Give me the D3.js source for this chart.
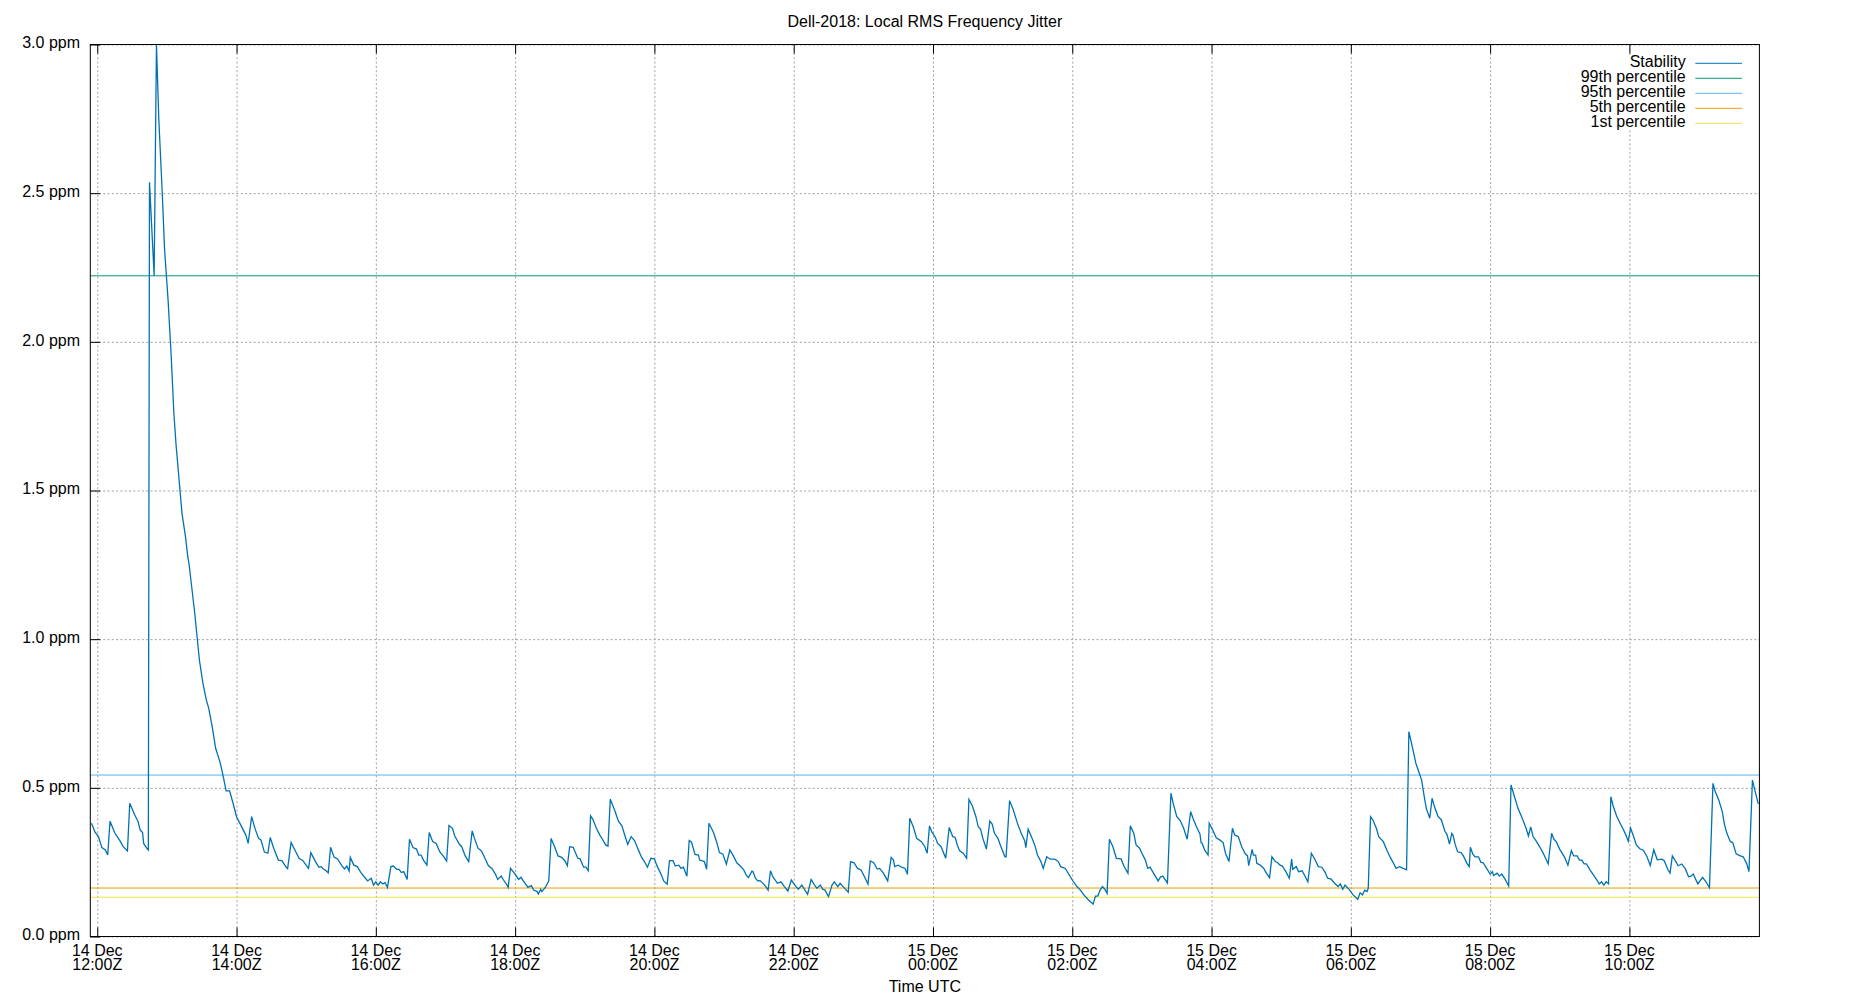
<!DOCTYPE html>
<html><head><meta charset="utf-8">
<script src="https://cdn.jsdelivr.net/npm/d3@7"></script>
<style>
body{margin:0;background:#fff;}
svg text{font-family:"Liberation Sans",Arial,sans-serif;font-size:16px;fill:#000;}
</style></head><body>
<svg id="chart" width="1850" height="1000"></svg>
<script>
// ---------------- data ----------------
const chartTitle = "Dell-2018: Local RMS Frequency Jitter";
const xAxisLabel = "Time UTC";
const startTime = "2018-12-14T12:00:00Z";       // reference instant, offsets are minutes from it
const windowMinutes = [-6, 1432];                 // visible time window
const tickHours = [0, 2, 4, 6, 8, 10, 12, 14, 16, 18, 20, 22]; // hours after startTime
const yTicks = [0, 0.5, 1.0, 1.5, 2.0, 2.5, 3.0];
const yDomain = [0, 3.0];
const seriesNames = ["Stability", "99th percentile", "95th percentile", "5th percentile", "1st percentile"];
const percentileValues = [2.222, 0.543, 0.163, 0.132];
// [minutes after startTime, ppm]
const stability = [
[-5,0.381],[-2,0.352],[1,0.336],[4,0.299],[7,0.291],[9,0.274],[11,0.388],[15,0.349],[20,0.319],[22,0.304],[26,0.288],[28,0.448],[32,0.411],[35,0.388],[37,0.358],[39,0.350],[40,0.313],[43,0.295],[44,0.291],
[45,2.537],[49,2.222],[51,3.0],[53,2.75],[56,2.5],[58,2.31],[61,2.141],[63,2.001],[64,1.928],[66,1.760],[68,1.648],[71,1.513],[73,1.423],[76,1.345],[78,1.277],[79,1.255],[81,1.188],[84,1.087],[86,1.008],[88,0.930],[91,0.852],[94,0.795],[96,0.768],[99,0.706],[102,0.633],[106,0.583],[109,0.529],[111,0.490],[114,0.490],[117,0.448],[120,0.403],[124,0.372],[128,0.341],[130,0.313],[133,0.403],[136,0.362],[139,0.330],[141,0.325],[144,0.284],[147,0.280],[149,0.333],[152,0.297],[156,0.257],[159,0.255],[163,0.232],[164,0.228],[167,0.316],[171,0.285],[174,0.262],[177,0.256],[179,0.245],[182,0.229],[184,0.282],[188,0.252],[191,0.233],[193,0.235],[195,0.226],[197,0.222],[199,0.214],[201,0.300],[204,0.267],[207,0.261],[211,0.237],[213,0.227],[215,0.237],[217,0.220],[218,0.266],[221,0.240],[224,0.235],[227,0.216],[231,0.196],[233,0.187],[236,0.196],[238,0.173],[240,0.184],[242,0.173],[244,0.184],[246,0.177],[248,0.181],[250,0.165],[253,0.235],[255,0.237],[258,0.226],[260,0.226],[262,0.215],[264,0.218],[267,0.192],[269,0.327],[272,0.299],[275,0.294],[277,0.274],[279,0.274],[281,0.257],[284,0.240],[286,0.350],[289,0.319],[292,0.313],[295,0.285],[298,0.271],[301,0.254],[303,0.373],[306,0.364],[308,0.338],[312,0.310],[314,0.302],[317,0.271],[320,0.252],[323,0.355],[325,0.330],[328,0.297],[331,0.288],[334,0.263],[337,0.238],[340,0.229],[343,0.210],[345,0.192],[348,0.203],[350,0.190],[353,0.173],[354,0.165],[356,0.229],[360,0.210],[363,0.192],[365,0.199],[368,0.182],[371,0.165],[374,0.171],[376,0.156],[379,0.151],[380,0.143],[382,0.159],[383,0.151],[386,0.165],[389,0.187],[391,0.330],[394,0.302],[397,0.271],[400,0.266],[403,0.254],[405,0.238],[407,0.302],[410,0.300],[414,0.263],[416,0.261],[419,0.233],[421,0.233],[423,0.221],[425,0.406],[427,0.394],[430,0.364],[433,0.341],[436,0.322],[438,0.308],[440,0.304],[442,0.462],[446,0.422],[449,0.388],[452,0.372],[455,0.334],[457,0.310],[460,0.336],[463,0.322],[466,0.293],[469,0.266],[472,0.248],[474,0.233],[477,0.263],[480,0.261],[482,0.240],[486,0.207],[488,0.187],[491,0.176],[493,0.255],[496,0.255],[498,0.237],[501,0.240],[503,0.229],[505,0.233],[508,0.203],[510,0.323],[512,0.317],[515,0.276],[518,0.274],[519,0.257],[523,0.252],[525,0.226],[527,0.381],[531,0.349],[534,0.313],[536,0.282],[539,0.277],[542,0.243],[545,0.291],[548,0.271],[551,0.248],[554,0.237],[557,0.224],[559,0.207],[561,0.198],[564,0.220],[565,0.218],[567,0.196],[569,0.187],[571,0.188],[574,0.177],[576,0.168],[578,0.156],[580,0.221],[582,0.201],[586,0.179],[589,0.184],[592,0.168],[595,0.153],[598,0.190],[601,0.173],[604,0.159],[607,0.173],[610,0.154],[612,0.142],[615,0.192],[618,0.173],[620,0.162],[623,0.173],[625,0.159],[627,0.156],[630,0.134],[633,0.173],[635,0.184],[638,0.168],[640,0.179],[644,0.162],[647,0.149],[649,0.252],[652,0.248],[655,0.229],[658,0.224],[661,0.201],[664,0.176],[666,0.254],[669,0.248],[672,0.227],[674,0.229],[677,0.215],[681,0.187],[684,0.266],[686,0.257],[687,0.235],[690,0.240],[693,0.233],[696,0.229],[698,0.209],[700,0.398],[703,0.369],[706,0.330],[710,0.319],[713,0.302],[715,0.280],[717,0.372],[719,0.352],[722,0.334],[724,0.313],[727,0.302],[731,0.263],[734,0.367],[737,0.336],[739,0.334],[741,0.308],[743,0.288],[746,0.280],[749,0.263],[751,0.461],[754,0.439],[757,0.403],[759,0.369],[761,0.361],[763,0.330],[766,0.294],[769,0.388],[771,0.378],[773,0.347],[776,0.330],[778,0.308],[782,0.268],[783,0.268],[786,0.457],[789,0.428],[791,0.403],[793,0.378],[796,0.347],[799,0.322],[800,0.299],[802,0.361],[805,0.334],[808,0.304],[810,0.274],[813,0.252],[815,0.229],[818,0.268],[821,0.260],[825,0.260],[828,0.252],[830,0.235],[834,0.229],[836,0.216],[840,0.190],[844,0.168],[847,0.156],[850,0.140],[854,0.123],[858,0.109],[860,0.136],[862,0.136],[864,0.156],[866,0.168],[868,0.159],[870,0.145],[872,0.327],[875,0.302],[878,0.263],[882,0.261],[885,0.233],[888,0.213],[890,0.372],[893,0.347],[895,0.308],[898,0.297],[900,0.280],[903,0.257],[905,0.229],[907,0.233],[910,0.213],[914,0.187],[916,0.200],[918,0.203],[922,0.180],[925,0.482],[927,0.447],[930,0.404],[933,0.390],[936,0.364],[939,0.327],[942,0.420],[944,0.398],[947,0.369],[950,0.345],[951,0.316],[952,0.313],[954,0.291],[957,0.274],[958,0.381],[961,0.358],[964,0.332],[967,0.325],[970,0.316],[972,0.280],[975,0.252],[978,0.364],[980,0.341],[983,0.336],[986,0.302],[989,0.278],[991,0.271],[992,0.238],[995,0.293],[996,0.274],[998,0.274],[999,0.246],[1002,0.240],[1005,0.229],[1007,0.215],[1010,0.198],[1012,0.268],[1015,0.252],[1017,0.248],[1019,0.240],[1021,0.237],[1024,0.218],[1027,0.196],[1029,0.260],[1030,0.226],[1033,0.235],[1035,0.218],[1038,0.221],[1040,0.207],[1043,0.184],[1046,0.280],[1049,0.260],[1052,0.235],[1055,0.233],[1058,0.215],[1060,0.196],[1063,0.193],[1066,0.179],[1069,0.168],[1071,0.177],[1073,0.159],[1075,0.173],[1077,0.165],[1079,0.156],[1082,0.140],[1086,0.125],[1088,0.147],[1090,0.140],[1092,0.156],[1094,0.151],[1095,0.162],[1097,0.403],[1099,0.392],[1102,0.364],[1104,0.336],[1108,0.319],[1111,0.291],[1114,0.266],[1116,0.252],[1119,0.229],[1122,0.235],[1125,0.229],[1128,0.224],[1130,0.689],[1133,0.638],[1136,0.583],[1138,0.560],[1141,0.526],[1143,0.476],[1145,0.431],[1148,0.398],[1150,0.465],[1152,0.437],[1155,0.405],[1158,0.392],[1161,0.355],[1163,0.341],[1165,0.311],[1167,0.347],[1168,0.341],[1170,0.308],[1172,0.285],[1175,0.282],[1177,0.271],[1180,0.246],[1182,0.235],[1183,0.300],[1185,0.278],[1187,0.268],[1190,0.268],[1192,0.250],[1194,0.248],[1197,0.229],[1200,0.210],[1202,0.218],[1203,0.205],[1206,0.213],[1208,0.203],[1210,0.210],[1213,0.192],[1216,0.170],[1218,0.510],[1221,0.470],[1224,0.431],[1228,0.394],[1231,0.364],[1233,0.338],[1235,0.369],[1237,0.336],[1240,0.319],[1243,0.300],[1246,0.278],[1250,0.244],[1253,0.347],[1255,0.327],[1257,0.319],[1260,0.293],[1264,0.268],[1267,0.240],[1270,0.289],[1272,0.271],[1275,0.271],[1277,0.257],[1279,0.257],[1281,0.244],[1283,0.244],[1286,0.224],[1289,0.207],[1292,0.190],[1294,0.177],[1296,0.184],[1298,0.173],[1300,0.184],[1302,0.177],[1304,0.470],[1306,0.439],[1309,0.405],[1312,0.381],[1315,0.358],[1317,0.341],[1319,0.320],[1321,0.365],[1323,0.343],[1326,0.308],[1329,0.295],[1332,0.290],[1335,0.270],[1338,0.239],[1341,0.292],[1344,0.258],[1348,0.260],[1350,0.255],[1353,0.226],[1355,0.213],[1357,0.271],[1360,0.252],[1362,0.238],[1365,0.244],[1368,0.229],[1371,0.201],[1373,0.203],[1375,0.210],[1377,0.193],[1379,0.177],[1381,0.188],[1383,0.199],[1386,0.184],[1389,0.164],[1392,0.515],[1394,0.487],[1397,0.459],[1400,0.420],[1402,0.375],[1404,0.347],[1407,0.319],[1409,0.316],[1412,0.278],[1415,0.272],[1418,0.268],[1421,0.246],[1423,0.218],[1426,0.526],[1428,0.493],[1431,0.446]
];

// ---------------- styles / layout ----------------
const seriesColors = ["#0072B2", "#009E73", "#56B4E9", "#E69F00", "#F0E442"];
const plot = {left: 90.3, right: 1759.4, top: 44.5, bottom: 936.5};

const t0 = new Date(startTime).getTime();
const toDate = m => new Date(t0 + m * 60000);

const svg = d3.select("#chart");
const x = d3.scaleUtc().domain(windowMinutes.map(toDate)).range([plot.left, plot.right]);
const y = d3.scaleLinear().domain(yDomain).range([plot.bottom, plot.top]);
const tickDates = tickHours.map(h => toDate(h * 60));
const H = plot.bottom - plot.top, W = plot.right - plot.left;

// grid
const gridX = svg.append("g").attr("transform", `translate(0,${plot.bottom})`)
  .call(d3.axisBottom(x).tickValues(tickDates).tickSize(-H).tickFormat(""));
const gridY = svg.append("g").attr("transform", `translate(${plot.left},0)`)
  .call(d3.axisLeft(y).tickValues(yTicks).tickSize(-W).tickFormat(""));
[gridX, gridY].forEach(g => {
  g.select(".domain").remove();
  g.selectAll("line").attr("stroke", "#a0a0a0").attr("stroke-width", 1).attr("stroke-dasharray", "2,2.3");
});

// clip
svg.append("clipPath").attr("id", "clip").append("rect")
  .attr("x", plot.left).attr("y", plot.top - 1).attr("width", W).attr("height", H + 1);

// percentile lines
svg.append("g").attr("clip-path", "url(#clip)").selectAll("line")
  .data(percentileValues).join("line")
  .attr("x1", plot.left).attr("x2", plot.right)
  .attr("y1", d => y(d)).attr("y2", d => y(d))
  .attr("stroke", (d, i) => seriesColors[i + 1]).attr("stroke-width", 1);

// stability line
const line = d3.line().x(d => x(toDate(d[0]))).y(d => y(d[1]));
svg.append("path").attr("clip-path", "url(#clip)").datum(stability)
  .attr("d", line).attr("fill", "none").attr("stroke", seriesColors[0])
  .attr("stroke-width", 1.3).attr("stroke-linejoin", "miter");

// legend box (white background)
svg.append("rect").attr("x", 1575).attr("y", 56).attr("width", 180).attr("height", 73).attr("fill", "#fff");
const leg = svg.append("g").selectAll("g").data(seriesNames).join("g")
  .attr("transform", (d, i) => `translate(0,${63.3 + i * 15})`);
leg.append("text").attr("x", 1685.7).attr("y", 3.3).attr("text-anchor", "end").text(d => d);
leg.append("line").attr("x1", 1695.3).attr("x2", 1742).attr("y1", 0).attr("y2", 0)
  .attr("stroke", (d, i) => seriesColors[i]).attr("stroke-width", 1);

// axes tick marks (inward)
const axB = svg.append("g").attr("transform", `translate(0,${plot.bottom})`)
  .call(d3.axisBottom(x).tickValues(tickDates).tickSize(-9).tickFormat(""));
const axT = svg.append("g").attr("transform", `translate(0,${plot.top})`)
  .call(d3.axisTop(x).tickValues(tickDates).tickSize(-9).tickFormat(""));
const axL = svg.append("g").attr("transform", `translate(${plot.left},0)`)
  .call(d3.axisLeft(y).tickValues(yTicks).tickSize(-10).tickPadding(10.3).tickFormat(d => d3.format(".1f")(d) + " ppm"));
[axB, axT, axL].forEach(g => {
  g.select(".domain").remove();
  g.selectAll("line").attr("stroke", "#000").attr("stroke-width", 1);
});
axL.selectAll("text").attr("dy", "0.2em").attr("fill", "#000")
  .style("font-family", '"Liberation Sans",Arial,sans-serif').style("font-size", "16px");

// x tick labels (two lines)
const fmtDay = d3.utcFormat("%-d %b"), fmtTime = d3.utcFormat("%H:%MZ");
const xl = svg.append("g").selectAll("text").data(tickDates).join("text")
  .attr("text-anchor", "middle").attr("x", d => x(d));
xl.append("tspan").attr("x", d => x(d)).attr("y", 955.5).text(d => fmtDay(d));
xl.append("tspan").attr("x", d => x(d)).attr("y", 969.5).text(d => fmtTime(d));

// border
svg.append("rect").attr("x", plot.left).attr("y", plot.top).attr("width", W).attr("height", H)
  .attr("fill", "none").attr("stroke", "#000").attr("stroke-width", 1);

// title & axis label
svg.append("text").attr("x", (plot.left + plot.right) / 2).attr("y", 26.5).attr("text-anchor", "middle").text(chartTitle);
svg.append("text").attr("x", (plot.left + plot.right) / 2).attr("y", 992).attr("text-anchor", "middle").text(xAxisLabel);
</script>
</body></html>
